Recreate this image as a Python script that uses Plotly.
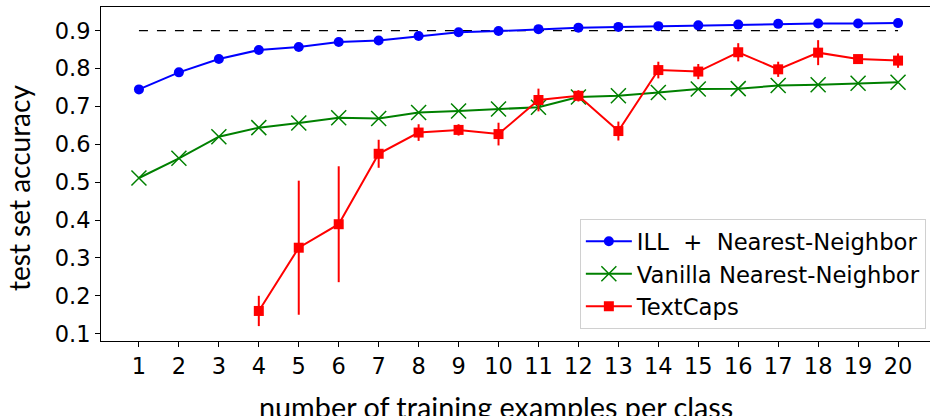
import plotly.graph_objects as go

x = list(range(1, 21))
ill_nn = [0.745, 0.790, 0.825, 0.849, 0.857, 0.870, 0.874, 0.886, 0.896, 0.899,
          0.904, 0.908, 0.910, 0.912, 0.914, 0.916, 0.918, 0.919, 0.919, 0.920]
vanilla_nn = [0.511, 0.563, 0.620, 0.644, 0.656, 0.670, 0.668, 0.684, 0.688, 0.693,
              0.698, 0.725, 0.728, 0.737, 0.746, 0.747, 0.755, 0.757, 0.761, 0.764]
textcaps_x = list(range(4, 21))
textcaps = [0.160, 0.327, 0.389, 0.575, 0.631, 0.638, 0.627, 0.717, 0.728, 0.635,
            0.796, 0.792, 0.843, 0.798, 0.842, 0.825, 0.821]
textcaps_err = [0.040, 0.177, 0.153, 0.037, 0.022, 0.015, 0.030, 0.030, 0.015, 0.025,
                0.022, 0.020, 0.024, 0.020, 0.033, 0.008, 0.019]
ref_x = [1, 20]
ref_y = [0.9, 0.9]
y_ticks = [0.1, 0.2, 0.3, 0.4, 0.5, 0.6, 0.7, 0.8, 0.9]
y_ticktext = ["0.1", "0.2", "0.3", "0.4", "0.5", "0.6", "0.7", "0.8", "0.9"]

tick_font = dict(family="DejaVu Sans", size=22.5, color="black")

fig = go.Figure()
fig.add_trace(go.Scatter(x=ref_x, y=ref_y, mode="lines",
                         line=dict(color="black", width=1.2, dash="dash"),
                         showlegend=False, hoverinfo="skip"))
fig.add_trace(go.Scatter(x=x, y=ill_nn, mode="lines+markers",
                         name="ILL\u00a0\u00a0+\u00a0\u00a0Nearest-Neighbor",
                         line=dict(color="blue", width=2),
                         marker=dict(symbol="circle", size=10, color="blue")))
fig.add_trace(go.Scatter(x=x, y=vanilla_nn, mode="lines+markers",
                         name="Vanilla Nearest-Neighbor",
                         line=dict(color="green", width=2),
                         marker=dict(symbol="x-thin-open", size=15,
                                     line=dict(color="green", width=1.5))))
fig.add_trace(go.Scatter(x=textcaps_x, y=textcaps, mode="lines+markers",
                         name="TextCaps",
                         line=dict(color="red", width=2),
                         marker=dict(symbol="square", size=10, color="red"),
                         error_y=dict(type="data", array=textcaps_err, visible=True,
                                      color="red", thickness=2, width=0)))

fig.update_layout(
    width=930, height=416,
    margin=dict(l=101, r=0, t=7, b=75, autoexpand=False),
    paper_bgcolor="white", plot_bgcolor="white",
    font=tick_font,
    showlegend=True,
    legend=dict(x=0.995, y=0.036, xanchor="right", yanchor="bottom",
                bgcolor="rgba(255,255,255,0.85)", bordercolor="#d0d0d0", borderwidth=1,
                font=dict(family="DejaVu Sans", size=22.7, color="black"),
                tracegroupgap=0, itemwidth=46),
    annotations=[
        dict(text="number of training examples per class", xref="paper", yref="paper",
             x=0.476, y=-0.198, xanchor="center", yanchor="middle", showarrow=False,
             font=dict(family="Lato", size=28.8, color="black")),
        dict(text="test set accuracy", xref="paper", yref="paper",
             x=-0.099, y=0.458, xanchor="center", yanchor="middle", showarrow=False,
             textangle=-90, font=dict(family="Lato", size=28, color="black")),
    ],
)
fig.update_xaxes(range=[0.05, 20.8], tickmode="array", tickvals=x,
                 ticks="outside", ticklen=5, tickcolor="black", tickwidth=1,
                 showline=True, linecolor="black", linewidth=1, mirror=True,
                 showgrid=False, zeroline=False, tickfont=tick_font, automargin=False)
fig.update_yaxes(range=[0.0807, 0.9625], tickmode="array",
                 tickvals=y_ticks, ticktext=y_ticktext,
                 ticks="outside", ticklen=5, tickcolor="black", tickwidth=1,
                 showline=True, linecolor="black", linewidth=1,
                 showgrid=False, zeroline=False, tickfont=tick_font, automargin=False)

fig.write_html("out.html", config={"displayModeBar": False},
               post_script="document.body.style.margin='0';")
